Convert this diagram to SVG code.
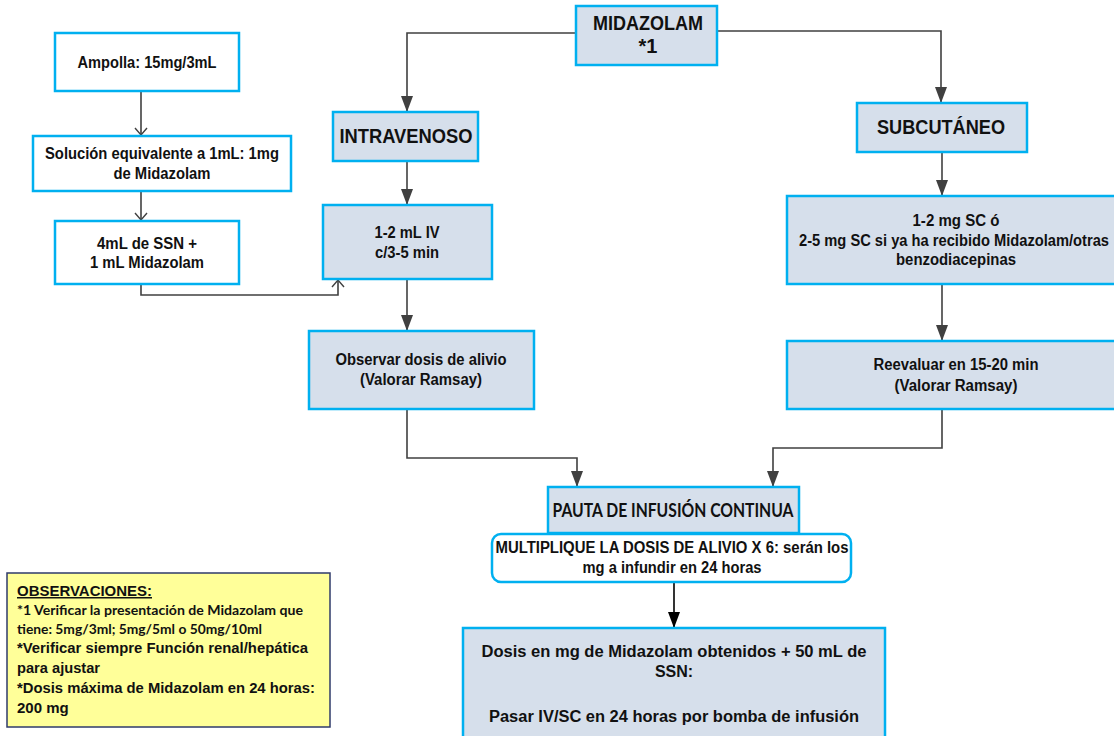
<svg xmlns="http://www.w3.org/2000/svg" width="1114" height="736" viewBox="0 0 1114 736">
<style>
.bx{fill:#d6dfeb;stroke:#00b0f0;stroke-width:2.5}
.wb{fill:#ffffff;stroke:#00b0f0;stroke-width:2.5}
.t{font-family:"Liberation Sans",Arial,sans-serif;font-weight:bold;font-size:16px;fill:#111;text-anchor:middle}
.h{font-size:20px}
.c{font-family:Lato,"Liberation Sans",sans-serif;font-weight:bold;fill:#111}
.o{font-family:"Liberation Sans",Arial,sans-serif;font-weight:bold;font-size:15px;fill:#111}
.cn{fill:none;stroke:#404040;stroke-width:1.6}
</style>
<defs>
<marker id="af" markerUnits="userSpaceOnUse" markerWidth="16" markerHeight="12" refX="15" refY="6" orient="auto">
<path d="M0,0 L16,6 L0,12 Z" fill="#404040"/>
</marker>
<marker id="ab" markerUnits="userSpaceOnUse" markerWidth="16" markerHeight="12" refX="15" refY="6" orient="auto">
<path d="M0,0 L16,6 L0,12 Z" fill="#000"/>
</marker>
<marker id="ao" markerUnits="userSpaceOnUse" markerWidth="10" markerHeight="14" refX="8" refY="7" orient="auto">
<path d="M1,1 L8,7 L1,13" fill="none" stroke="#404040" stroke-width="1.4"/>
</marker>
</defs>

<g id="connectors">
<path class="cn" d="M141,91 V135" marker-end="url(#ao)"/>
<path class="cn" d="M141,191 V220" marker-end="url(#ao)"/>
<path class="cn" d="M141,284 V295 H338 V280" marker-end="url(#ao)"/>
<path class="cn" d="M576,33 H407 V111" marker-end="url(#af)"/>
<path class="cn" d="M717,31 H941 V102" marker-end="url(#af)"/>
<path class="cn" d="M407,161 V204" marker-end="url(#af)"/>
<path class="cn" d="M407,279 V330" marker-end="url(#af)"/>
<path class="cn" d="M942,152 V195" marker-end="url(#af)"/>
<path class="cn" d="M942,284 V340" marker-end="url(#af)"/>
<path class="cn" d="M407,409 V458 H577 V486" marker-end="url(#af)"/>
<path class="cn" d="M942,409 V448 H773 V486" marker-end="url(#af)"/>
<path d="M674,582 V627" fill="none" stroke="#000" stroke-width="1.6" marker-end="url(#ab)"/>
</g>

<g id="ampolla">
<rect class="wb" x="55" y="33" width="184" height="58"/>
<text class="t" x="147" y="68" textLength="139" lengthAdjust="spacingAndGlyphs">Ampolla: 15mg/3mL</text>
</g>
<g id="solucion">
<rect class="wb" x="33" y="136" width="258" height="55"/>
<text class="t" x="162" y="159" textLength="234" lengthAdjust="spacingAndGlyphs">Solución equivalente a 1mL: 1mg</text>
<text class="t" x="162" y="179" textLength="97" lengthAdjust="spacingAndGlyphs">de Midazolam</text>
</g>
<g id="ssn">
<rect class="wb" x="55" y="221" width="184" height="63"/>
<text class="t" x="147" y="249" textLength="100" lengthAdjust="spacingAndGlyphs">4mL de SSN +</text>
<text class="t" x="147" y="268" textLength="114" lengthAdjust="spacingAndGlyphs">1 mL Midazolam</text>
</g>

<g id="midazolam">
<rect class="bx" x="576" y="6" width="141" height="59"/>
<text class="t h" x="648" y="30" textLength="110" lengthAdjust="spacingAndGlyphs">MIDAZOLAM</text>
<text class="t h" x="648" y="53">*1</text>
</g>
<g id="intravenoso">
<rect class="bx" x="333" y="112" width="145" height="49"/>
<text class="t h" x="406" y="143" textLength="133" lengthAdjust="spacingAndGlyphs">INTRAVENOSO</text>
</g>
<g id="iv-dosis">
<rect class="bx" x="323" y="205" width="169" height="74"/>
<text class="t" x="407" y="238" textLength="65" lengthAdjust="spacingAndGlyphs">1-2 mL IV</text>
<text class="t" x="407" y="258" textLength="64" lengthAdjust="spacingAndGlyphs">c/3-5 min</text>
</g>
<g id="observar">
<rect class="bx" x="309" y="331" width="225" height="78"/>
<text class="t" x="421" y="365" textLength="171" lengthAdjust="spacingAndGlyphs">Observar dosis de alivio</text>
<text class="t" x="421" y="385" textLength="122" lengthAdjust="spacingAndGlyphs">(Valorar Ramsay)</text>
</g>

<g id="subcutaneo">
<rect class="bx" x="857" y="103" width="170" height="49"/>
<text class="t h" x="941" y="134" textLength="128" lengthAdjust="spacingAndGlyphs">SUBCUTÁNEO</text>
</g>
<g id="sc-dosis">
<rect class="bx" x="787" y="196" width="340" height="88"/>
<text class="t" x="956" y="226" textLength="87" lengthAdjust="spacingAndGlyphs">1-2 mg SC ó</text>
<text class="t" x="954" y="246" textLength="310" lengthAdjust="spacingAndGlyphs">2-5 mg SC si ya ha recibido Midazolam/otras</text>
<text class="t" x="956" y="265" textLength="120" lengthAdjust="spacingAndGlyphs">benzodiacepinas</text>
</g>
<g id="reevaluar">
<rect class="bx" x="787" y="341" width="340" height="68"/>
<text class="t" x="956" y="370" textLength="165" lengthAdjust="spacingAndGlyphs">Reevaluar en 15-20 min</text>
<text class="t" x="956" y="391" textLength="123" lengthAdjust="spacingAndGlyphs">(Valorar Ramsay)</text>
</g>

<g id="pauta">
<rect class="bx" x="548" y="487" width="251" height="46"/>
<text class="c" x="673" y="517" font-size="18" text-anchor="middle" textLength="241" lengthAdjust="spacingAndGlyphs">PAUTA DE INFUSIÓN CONTINUA</text>
</g>
<g id="multiplique">
<rect class="wb" x="492" y="534" width="359" height="48" rx="9" ry="9"/>
<text class="t" x="672" y="553" textLength="353" lengthAdjust="spacingAndGlyphs">MULTIPLIQUE LA DOSIS DE ALIVIO X 6: serán los</text>
<text class="t" x="672" y="573" textLength="179" lengthAdjust="spacingAndGlyphs">mg a infundir en 24 horas</text>
</g>
<g id="dosis-final">
<rect class="bx" x="463" y="628" width="422" height="120"/>
<text class="t" x="674" y="657" textLength="385" lengthAdjust="spacingAndGlyphs">Dosis en mg de Midazolam obtenidos + 50 mL de</text>
<text class="t" x="674" y="677">SSN:</text>
<text class="t" x="674" y="722" textLength="370" lengthAdjust="spacingAndGlyphs">Pasar IV/SC en 24 horas por bomba de infusión</text>
</g>

<g id="observaciones">
<rect x="7" y="573" width="323" height="154" fill="#ffff99" stroke="#2f3b6b" stroke-width="1.5"/>
<text class="o" x="17" y="596" textLength="135" lengthAdjust="spacingAndGlyphs" text-decoration="underline">OBSERVACIONES:</text>
<text class="c" x="17" y="615" font-size="14" textLength="286" lengthAdjust="spacingAndGlyphs">*1 Verificar la presentación de Midazolam que</text>
<text class="c" x="17" y="634" font-size="14" textLength="245" lengthAdjust="spacingAndGlyphs">tiene: 5mg/3ml; 5mg/5ml o 50mg/10ml</text>
<text class="o" x="17" y="653" textLength="291" lengthAdjust="spacingAndGlyphs">*Verificar siempre Función renal/hepática</text>
<text class="o" x="17" y="673" textLength="83" lengthAdjust="spacingAndGlyphs">para ajustar</text>
<text class="o" x="17" y="693" textLength="298" lengthAdjust="spacingAndGlyphs">*Dosis máxima de Midazolam en 24 horas:</text>
<text class="o" x="17" y="713">200 mg</text>
</g>
</svg>
